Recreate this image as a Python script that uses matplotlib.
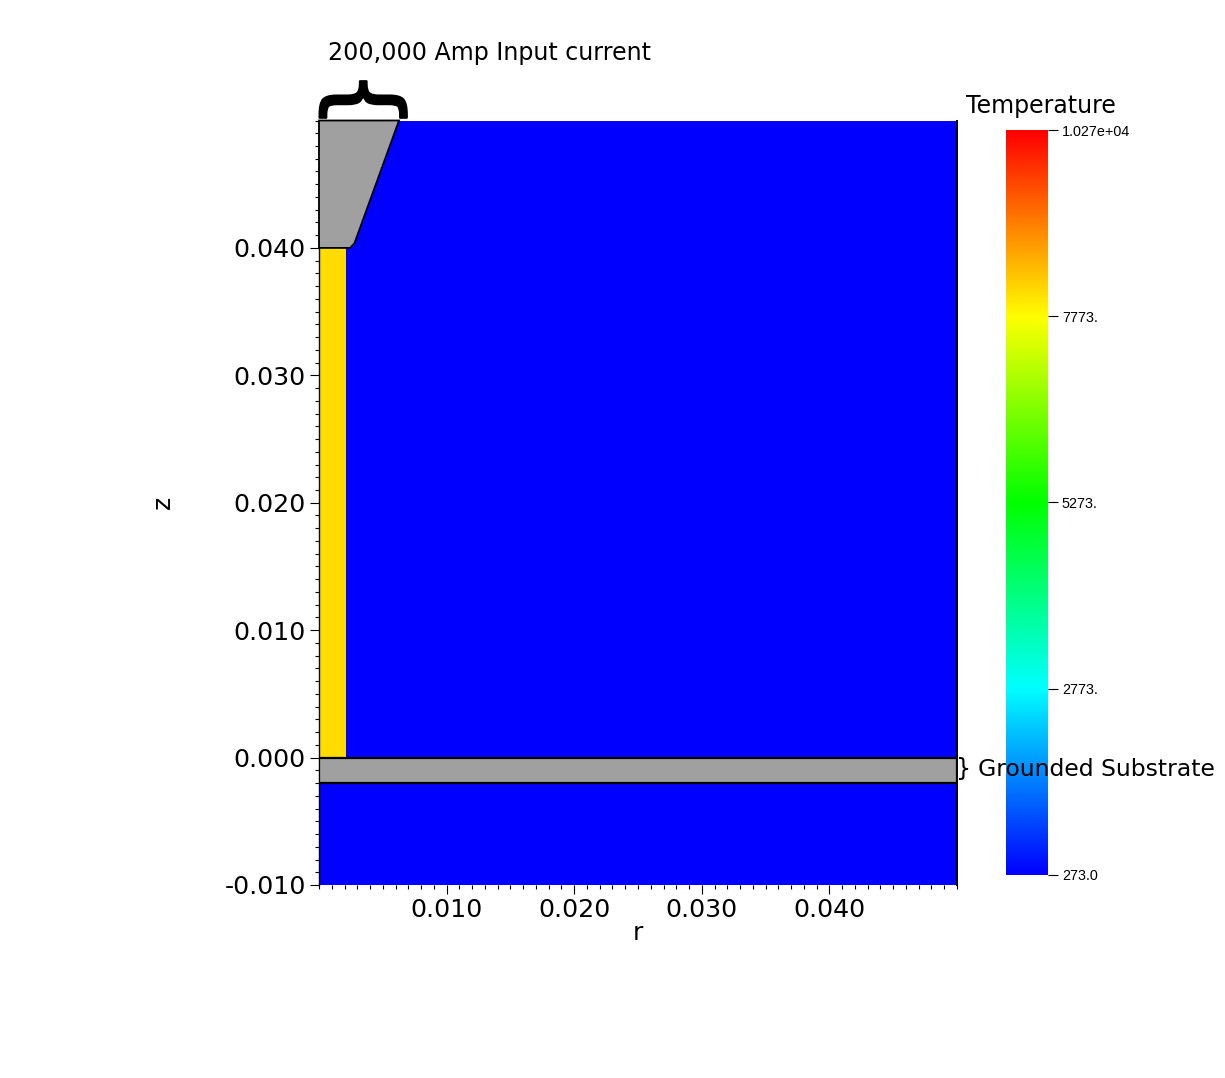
import matplotlib
matplotlib.use("Agg")
import matplotlib.pyplot as plt
import matplotlib.patheffects as pe
import numpy as np
from matplotlib.colors import LinearSegmentedColormap
from matplotlib.patches import Polygon, Rectangle
from matplotlib.ticker import MultipleLocator

W, H = 1225, 1078

# geometry (metres)
r_max = 0.05
z_min, z_max = -0.01, 0.05
electrode_r = [0.0, 0.00627, 0.00278, 0.00243, 0.0]
electrode_z = [0.05, 0.05, 0.04037, 0.04, 0.04]
wire_r = 0.0021
wire_z = 0.04
substrate_z = [-0.00196, 0.0]

r_ticks = [0.01, 0.02, 0.03, 0.04]
z_ticks = [-0.01, 0.0, 0.01, 0.02, 0.03, 0.04]

# colour bar
cbar_ticks = [273.0, 2773.0, 5273.0, 7773.0, 10270.0]
cbar_labels = ["273.0", "2773.", "5273.", "7773.", "1.027e+04"]
cbar_colors = ["#0000ff", "#00ffff", "#00ff00", "#ffff00", "#ff0000"]

background_color = "#0000ff"
wire_color = "#ffdc00"
metal_color = "#a0a0a0"


def px_axes(x0, y0, x1, y1):
    return fig.add_axes([x0 / W, 1 - y1 / H, (x1 - x0) / W, (y1 - y0) / H])


def px_text(x, y, s, **kw):
    return fig.text(x / W, 1 - y / H, s, color="black", **kw)


fig = plt.figure(figsize=(W / 100, H / 100), dpi=100)

ax = px_axes(319, 120.5, 957, 885)
ax.set_xlim(0, r_max)
ax.set_ylim(z_min, z_max)
ax.set_facecolor(background_color)

ax.add_patch(Rectangle((0, 0), wire_r, wire_z, fc=wire_color, ec="none", zorder=2))
ax.add_patch(Rectangle((0, substrate_z[0]), r_max, substrate_z[1] - substrate_z[0],
                       fc=metal_color, ec="black", lw=1.6, zorder=3))
ax.add_patch(Polygon(list(zip(electrode_r, electrode_z)), closed=True,
                     fc=metal_color, ec="black", lw=1.3, joinstyle="miter",
                     clip_on=False, zorder=3))

ax.spines["top"].set_visible(False)
ax.spines["bottom"].set_visible(False)
ax.spines["left"].set_linewidth(1.0)
ax.spines["right"].set_linewidth(1.4)

ax.set_xticks(r_ticks)
ax.set_xticklabels(["%.3f" % v for v in r_ticks])
ax.set_yticks(z_ticks)
ax.set_yticklabels(["%.3f" % v for v in z_ticks])
ax.xaxis.set_minor_locator(MultipleLocator(0.001))
ax.yaxis.set_minor_locator(MultipleLocator(0.001))
ax.tick_params(which="major", length=6.5, width=0.8, labelsize=18.2, pad=3)
ax.tick_params(which="minor", length=3.2, width=0.8)

px_text(638, 933, "r", fontsize=18, ha="center", va="center")
px_text(163, 502, "z", fontsize=18, ha="center", va="center", rotation=90)

# colour bar
cmap = LinearSegmentedColormap.from_list("visit_hot", cbar_colors, N=256)
cax = px_axes(1006, 130, 1048, 875)
cax.imshow(np.linspace(1, 0, 256).reshape(-1, 1), cmap=cmap, aspect="auto",
           extent=[0, 1, cbar_ticks[0], cbar_ticks[-1]])
cax.set_xticks([])
cax.yaxis.tick_right()
cax.set_yticks(cbar_ticks)
cax.set_yticklabels(cbar_labels, fontfamily="Liberation Sans")
cax.tick_params(axis="y", length=7, width=0.8, labelsize=10.4, pad=3)
for s in cax.spines.values():
    s.set_visible(False)

px_text(966, 106, "Temperature", fontsize=17, ha="left", va="center")
px_text(328, 53, "200,000 Amp Input current", fontsize=17.1, ha="left", va="center")
px_text(956, 769, "}", fontsize=17, ha="left", va="center")
px_text(978, 769, "Grounded Substrate", fontsize=16.9, ha="left", va="center")
brace = px_text(361, 99.5, "{", fontsize=68, ha="center", va="center", rotation=-90)
brace.set_path_effects([pe.withStroke(linewidth=1.6, foreground="black")])

fig.savefig("out.png", dpi=100)
